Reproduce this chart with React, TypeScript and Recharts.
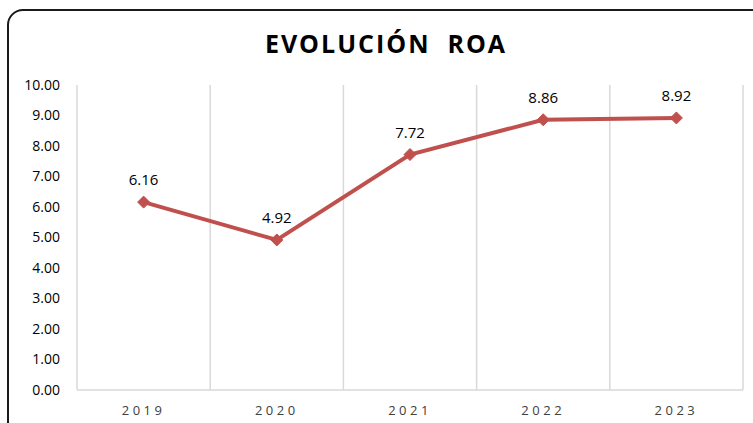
import { LineChart, Line, XAxis, YAxis, CartesianGrid, LabelList } from 'recharts'

const years = ['2019', '2020', '2021', '2022', '2023']
const roa = [6.16, 4.92, 7.72, 8.86, 8.92]
const yTicks = [0, 1, 2, 3, 4, 5, 6, 7, 8, 9, 10]

const data = years.map((year, i) => ({ idx: i, year, roa: roa[i] }))
// bordes entre categorías para las líneas verticales
const bandEdges = years.map((_, i) => i - 0.5).concat(years.length - 0.5)

const LINE = '#C0504D'
const FONT = '"Open Sans", sans-serif'

const Diamond = (props: any) => {
    const { cx, cy, index } = props
    if (cx == null || cy == null) return null
    const r = 6
    return (
        <path
            key={`d-${index}`}
            d={`M${cx},${cy - r} L${cx + r},${cy} L${cx},${cy + r} L${cx - r},${cy} Z`}
            fill={LINE}
            stroke={LINE}
        />
    )
}

const YearTick = (props: any) => {
    const { x, y, payload } = props
    return (
        <text
            x={x}
            y={y + 17}
            textAnchor="middle"
            fontFamily={FONT}
            fontSize={13}
            fill="#404040"
            letterSpacing={3.5}
        >
            {years[payload.value]}
        </text>
    )
}

export default function App() {
    return (
        <div style={{ position: 'absolute', left: 0, top: 0, width: 753, height: 423, overflow: 'hidden', background: '#fff' }}>
            <div
                style={{
                    position: 'absolute',
                    left: 7,
                    top: 9,
                    width: 770,
                    height: 440,
                    border: '2px solid #1a1a1a',
                    borderRadius: 16,
                }}
            />
            <div
                style={{
                    position: 'absolute',
                    left: 0,
                    top: 26,
                    width: 772,
                    textAlign: 'center',
                    fontFamily: FONT,
                    fontWeight: 700,
                    fontSize: 25,
                    lineHeight: '34px',
                    letterSpacing: 2,
                    color: '#000',
                    whiteSpace: 'pre',
                }}
            >
                {'EVOLUCIÓN  ROA'}
            </div>
            <div style={{ position: 'absolute', left: 0, top: 0 }}>
                <LineChart
                    width={753}
                    height={423}
                    data={data}
                    margin={{ top: 85, right: 10, bottom: 3, left: 0 }}
                >
                    <CartesianGrid xAxisId="grid" horizontal={false} stroke="#d9d9d9" strokeWidth={1.5} />
                    <XAxis
                        dataKey="idx"
                        type="number"
                        domain={[-0.5, years.length - 0.5]}
                        ticks={years.map((_, i) => i)}
                        tick={<YearTick />}
                        tickLine={false}
                        axisLine={{ stroke: '#d9d9d9', strokeWidth: 1.5 }}
                        height={30}
                        interval={0}
                    />
                    <XAxis
                        xAxisId="grid"
                        dataKey="idx"
                        type="number"
                        domain={[-0.5, years.length - 0.5]}
                        ticks={bandEdges}
                        hide
                    />
                    <YAxis
                        domain={[0, 10]}
                        ticks={yTicks}
                        tickFormatter={(v: number) => v.toFixed(2)}
                        axisLine={false}
                        tickLine={false}
                        tickSize={0}
                        tickMargin={17}
                        width={77}
                        tick={{ fontFamily: FONT, fontSize: 14, fill: '#000' }}
                        interval={0}
                    />
                    <Line
                        dataKey="roa"
                        stroke={LINE}
                        strokeWidth={4}
                        dot={Diamond}
                        activeDot={false}
                        isAnimationActive={false}
                    >
                        <LabelList
                            dataKey="roa"
                            position="top"
                            offset={17}
                            formatter={(v: any) => Number(v).toFixed(2)}
                            style={{ fontFamily: FONT, fontSize: 15, fill: '#000' }}
                        />
                    </Line>
                </LineChart>
            </div>
        </div>
    )
}
